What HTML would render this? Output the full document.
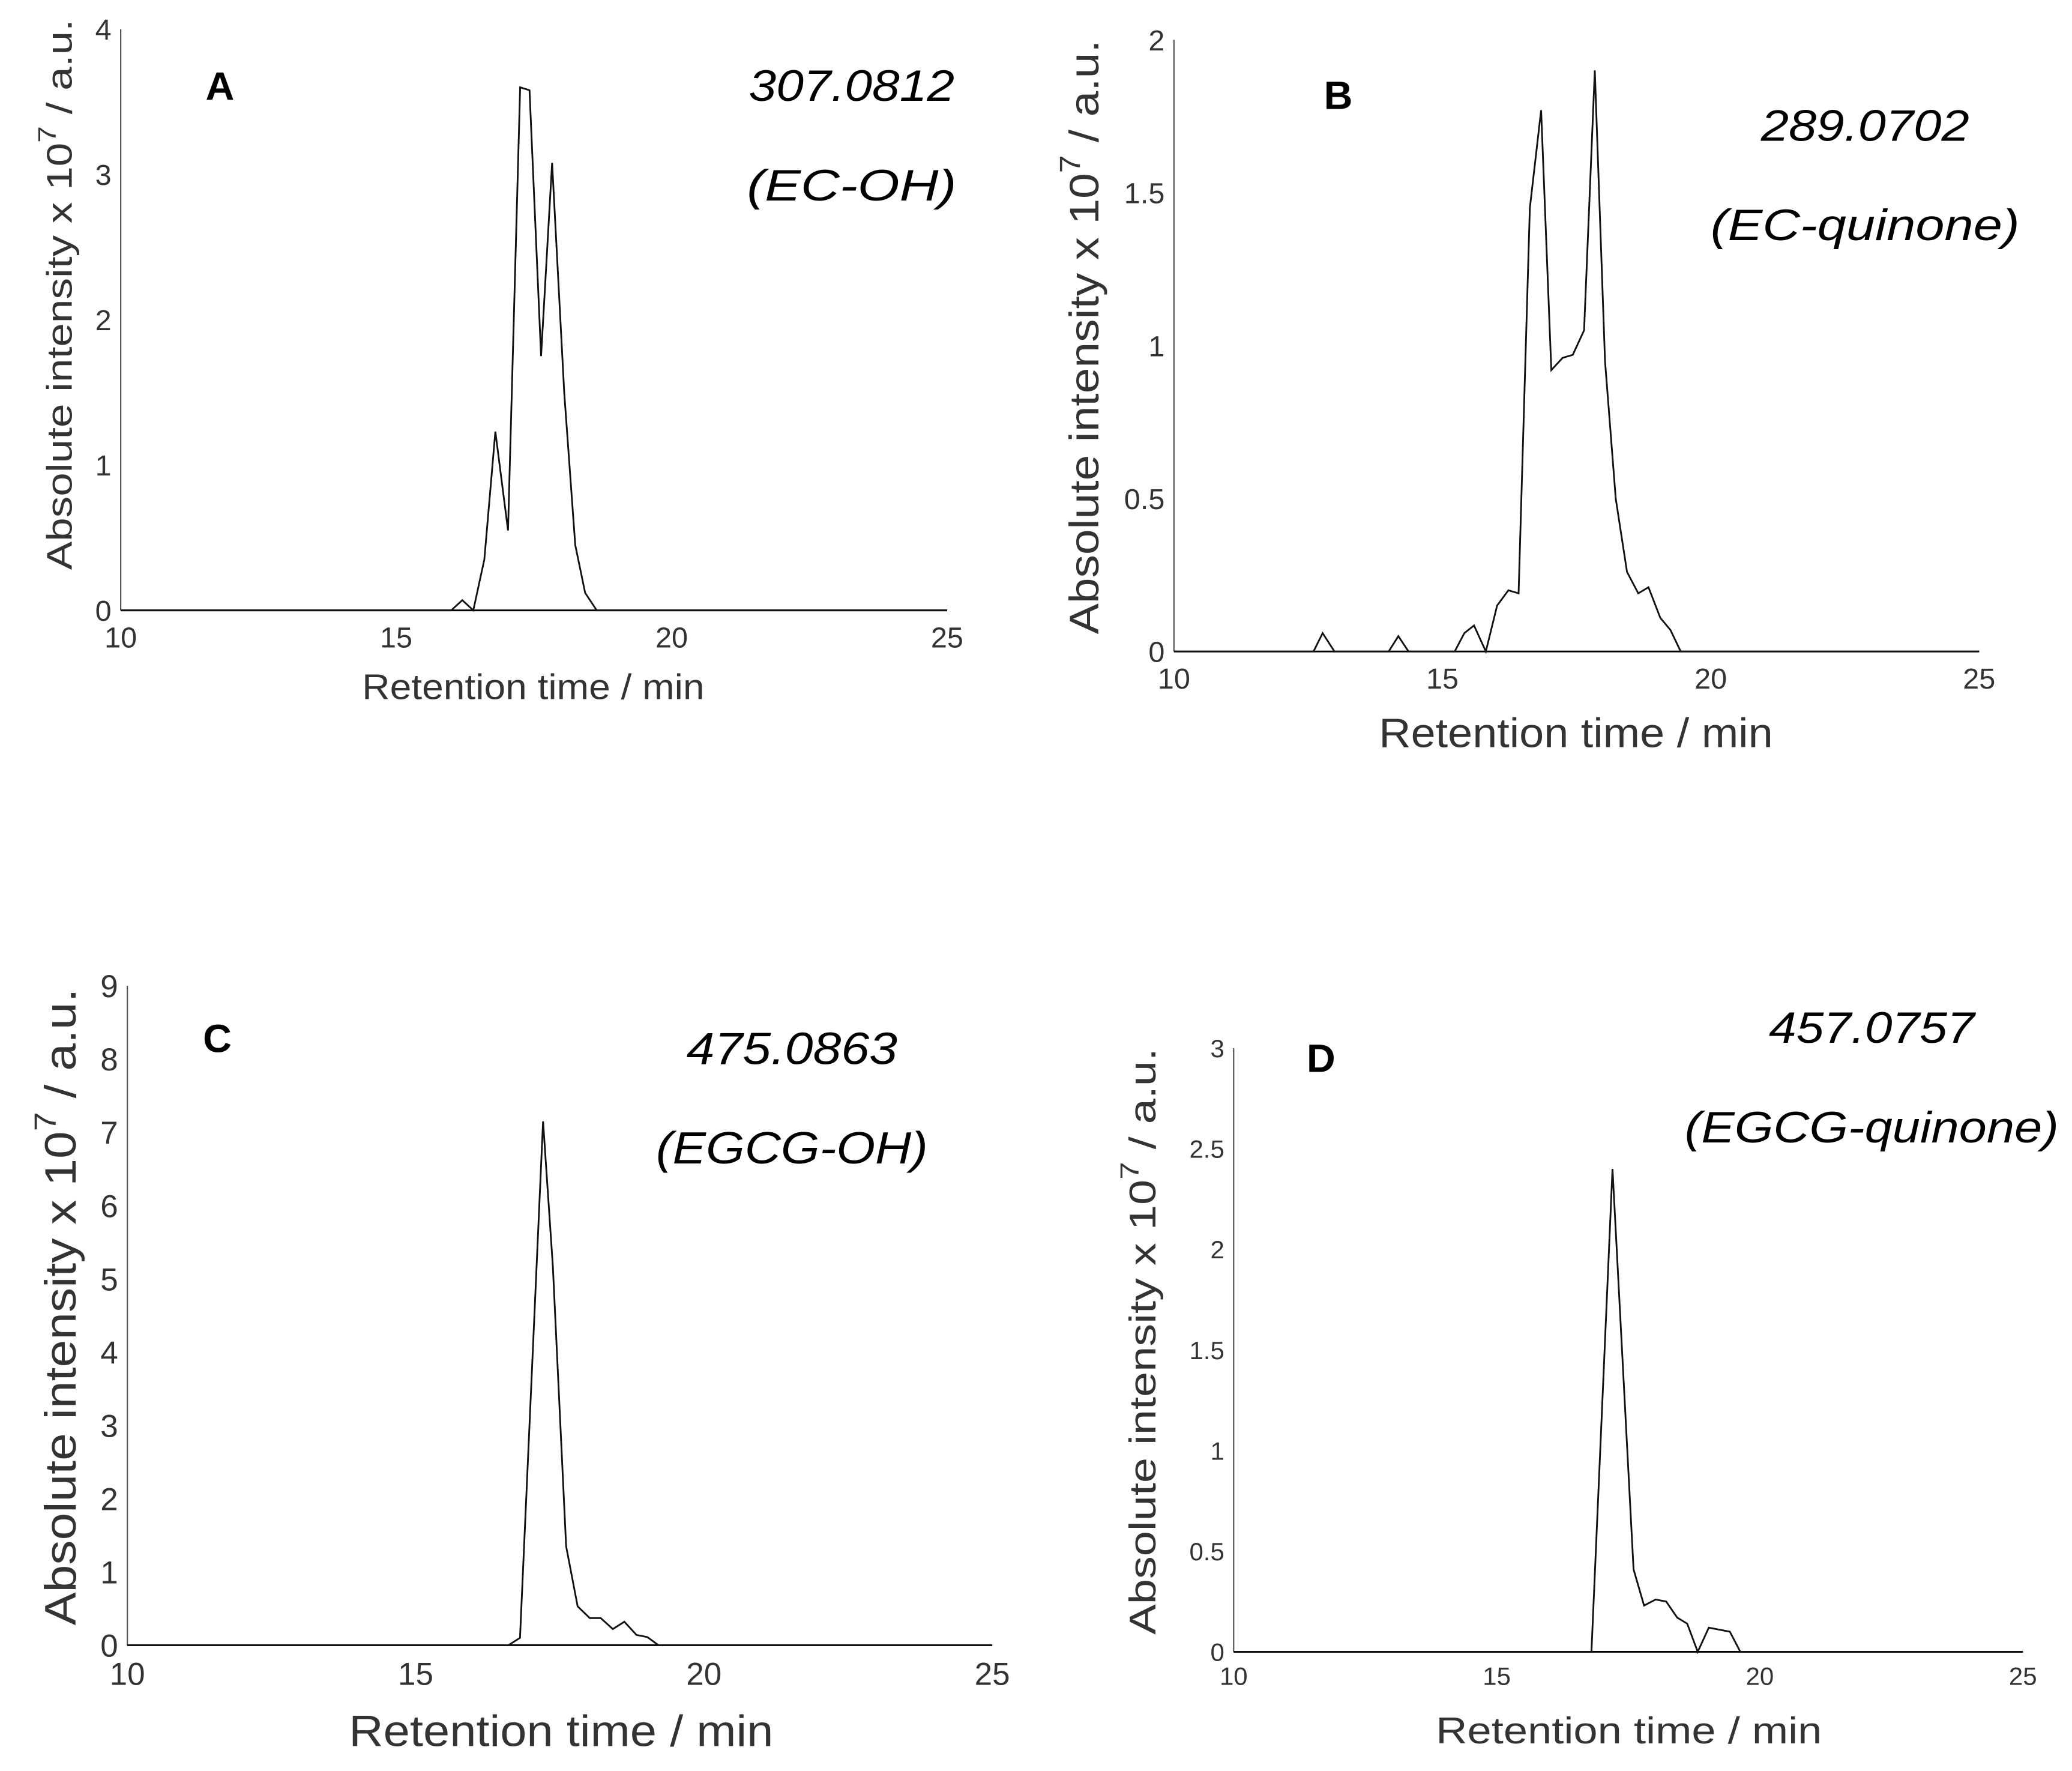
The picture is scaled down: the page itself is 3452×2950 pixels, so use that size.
<!DOCTYPE html>
<html><head><meta charset="utf-8"><style>
html,body{margin:0;padding:0;background:#fff;}
svg{display:block;}
text{font-family:"Liberation Sans",sans-serif;}
</style></head><body>
<svg id="fig" width="3452" height="2950" viewBox="0 0 1562 1334.8" xmlns="http://www.w3.org/2000/svg"></svg>
<script>
// Panel data (x = retention time / min, y = intensity x 1e7)
const aTimes = [10,16.0,16.2,16.4,16.6,16.8,17.03,17.25,17.42,17.63,17.83,18.05,18.25,18.43,18.64,25];
const aValues = [0,0,0.07,0,0.35,1.23,0.55,3.6,3.58,1.75,3.08,1.5,0.45,0.12,0,0];
const bTimes = [10,12.6,12.77,12.99,14.0,14.18,14.37,15.23,15.41,15.59,15.81,16.02,16.23,16.42,16.63,16.84,17.03,17.24,17.43,17.64,17.84,18.03,18.23,18.44,18.65,18.84,19.06,19.25,19.44,25];
const bValues = [0,0,0.06,0,0,0.05,0,0,0.06,0.085,0,0.15,0.2,0.19,1.45,1.77,0.92,0.96,0.97,1.05,1.9,0.95,0.5,0.26,0.19,0.21,0.11,0.07,0,0];
const cTimes = [10,16.61,16.81,17.21,17.38,17.61,17.81,18.02,18.21,18.42,18.62,18.83,19.02,19.21,25];
const cValues = [0,0,0.1,7.15,5.17,1.35,0.53,0.37,0.37,0.22,0.32,0.14,0.11,0,0];
const dTimes = [10,16.8,17.2,17.6,17.8,18.02,18.22,18.43,18.62,18.82,19.03,19.43,19.63,25];
const dValues = [0,0,2.4,0.41,0.23,0.26,0.25,0.17,0.14,0,0.12,0.1,0,0];
const xTicks = [10,15,20,25];
const aYTicks = [0,1,2,3,4];
const bYTicks = [0,0.5,1,1.5,2];
const cYTicks = [0,1,2,3,4,5,6,7,8,9];
const dYTicks = [0,0.5,1,1.5,2,2.5,3];

const NS = "http://www.w3.org/2000/svg";
const svg = document.getElementById('fig');
function mk(tag, attrs, parent, txt){
  const e = document.createElementNS(NS, tag);
  for (const k in attrs) e.setAttribute(k, attrs[k]);
  if (txt !== undefined) e.textContent = txt;
  (parent||svg).appendChild(e);
  return e;
}
function panel(p){
  const g = mk('g', {});
  
  
  const sx = v => p.x0 + (v - 10) / 15 * (p.x1 - p.x0);
  const sy = v => p.y0 - v / p.ymax * (p.y0 - p.ytop);
  const ya = mk('line', {x1:p.x0, y1:p.ytop, x2:p.x0, y2:p.y0, stroke:'#555', 'stroke-width':1}, g);
  
  
  const xa = mk('line', {x1:p.x0, y1:p.y0, x2:p.x1, y2:p.y0, stroke:'#000', 'stroke-width':1.3}, g);
  
  
  for (const t of xTicks){
    const tl = mk('text', {x:sx(t), y:p.y0 + p.tf + 6, 'font-size':p.tf, fill:'#333', 'text-anchor':'middle'}, g, String(t));
    
    
  }
  for (const t of p.yTicks){
    const tl = mk('text', {x:p.x0 - 7, y:sy(t) + p.tf*0.36, 'font-size':p.tf, fill:'#333', 'text-anchor':'end'}, g, String(t));
    
    
  }
  let d = '';
  p.t.forEach((t,i) => { d += (i ? 'L' : 'M') + sx(t).toFixed(2) + ',' + sy(p.v[i]).toFixed(2); });
  const line = mk('path', {d:d, fill:'none', stroke:'#111', 'stroke-width':1.3, 'stroke-linejoin':'miter'}, g);
  
  
  const xl = mk('text', {x:p.xlx, y:p.xly, 'font-size':p.lf, fill:'#333', 'text-anchor':'middle', textLength:p.xlw, lengthAdjust:'spacingAndGlyphs'}, g, 'Retention time / min');
  
  
  const yl = mk('text', {x:0, y:0, 'font-size':p.lf, fill:'#333', 'text-anchor':'middle', textLength:p.ylw, lengthAdjust:'spacingAndGlyphs', transform:'translate(' + p.ylx + ',' + p.yly + ') rotate(-90)'}, g);
  
  
  mk('tspan', {}, yl, 'Absolute intensity x 10');
  mk('tspan', {'font-size':p.lf*0.7, dy:-p.lf*0.45}, yl, '7');
  mk('tspan', {dy:p.lf*0.45}, yl, ' / a.u.');
  const lt = mk('text', {x:p.lx, y:p.ly, 'font-size':30, 'font-weight':'bold', fill:'#000'}, g, p.id);
  
  
  const m1 = mk('text', {x:p.ax, y:p.ay1, 'font-size':p.af, 'font-style':'italic', fill:'#000', 'text-anchor':'middle', textLength:p.mw, lengthAdjust:'spacingAndGlyphs'}, g, p.mass);
  
  
  const m2 = mk('text', {x:p.ax, y:p.ay2, 'font-size':p.af, 'font-style':'italic', fill:'#000', 'text-anchor':'middle', textLength:p.cw, lengthAdjust:'spacingAndGlyphs'}, g, p.cmpd);
  
  
}
panel({id:'A', x0:91, x1:714, y0:460, ytop:22, ymax:4, yTicks:aYTicks, t:aTimes, v:aValues, tf:22, lf:27, xlw:258, ylw:415,
  xlx:402, xly:527, ylx:54, yly:222, lx:155, ly:75, ax:642, ay1:76, ay2:151, af:33, mw:155, cw:158, mass:'307.0812', cmpd:'(EC-OH)'});
panel({id:'B', x0:885, x1:1492, y0:491, ytop:30, ymax:2, yTicks:bYTicks, t:bTimes, v:bValues, tf:22, lf:31, xlw:297, ylw:448,
  xlx:1188, xly:563, ylx:828, yly:254, lx:998, ly:82, ax:1406, ay1:106, ay2:181, af:33, mw:157, cw:233, mass:'289.0702', cmpd:'(EC-quinone)'});
panel({id:'C', x0:96, x1:748, y0:1240, ytop:743, ymax:9, yTicks:cYTicks, t:cTimes, v:cValues, tf:24, lf:33, xlw:320, ylw:480,
  xlx:423, xly:1316, ylx:57, yly:985, lx:153, ly:793, ax:597, ay1:802, ay2:877, af:34, mw:159, cw:205, mass:'475.0863', cmpd:'(EGCG-OH)'});
panel({id:'D', x0:930, x1:1525, y0:1245, ytop:790, ymax:3, yTicks:dYTicks, t:dTimes, v:dValues, tf:19, lf:28, xlw:291, ylw:442,
  xlx:1228, xly:1314, ylx:871, yly:1011, lx:985, ly:808, ax:1411, ay1:786, ay2:861, af:33, mw:155, cw:282, mass:'457.0757', cmpd:'(EGCG-quinone)'});
</script>
</body></html>
